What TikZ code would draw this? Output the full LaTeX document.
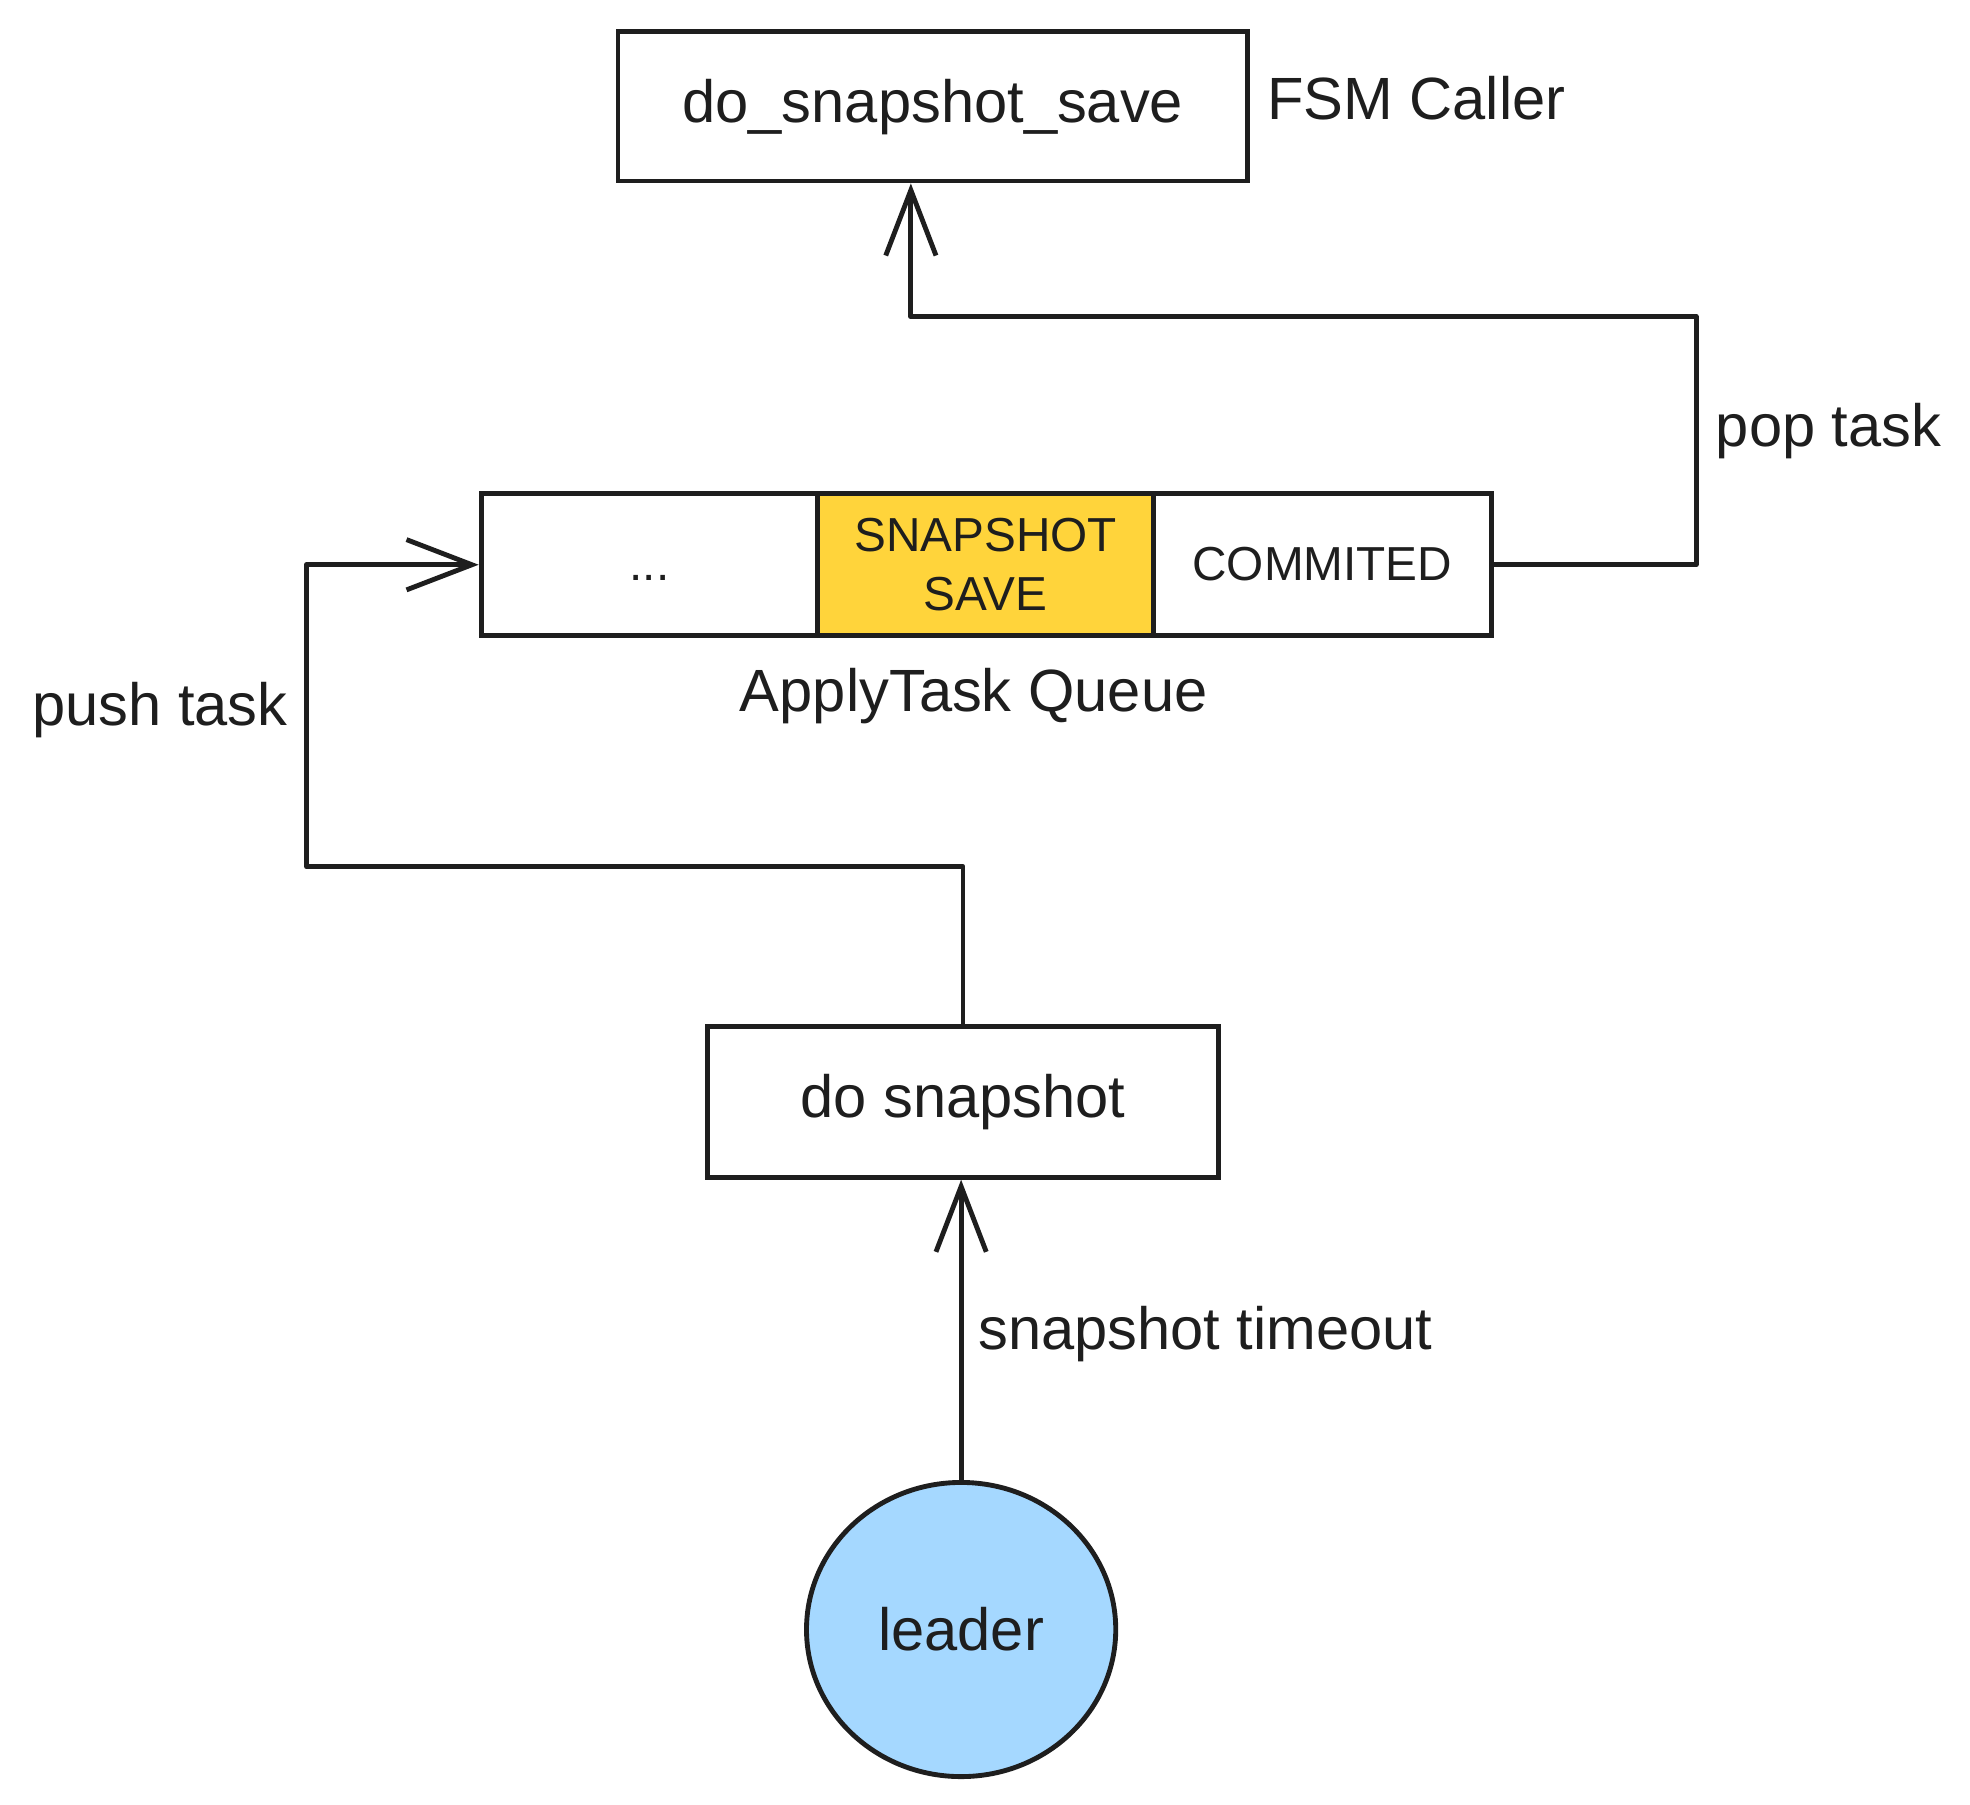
\documentclass[tikz,border=0pt]{standalone}
\usepackage{fontspec}
\setmainfont{Liberation Sans}
\usetikzlibrary{arrows.meta,shapes.geometric}
\definecolor{ink}{HTML}{1E1E1E}
\definecolor{yel}{HTML}{FFD43B}
\definecolor{blu}{HTML}{A5D8FF}
\tikzset{
  boxbase/.style={draw=ink, line width=1.1pt, rectangle, inner sep=0pt, fill=white,
    text=ink, font=\fontsize{13.5}{16}\selectfont},
  box/.style={boxbase, text height=0.72em, text depth=0pt},
  cell/.style={box, minimum height=1.13cm, font=\fontsize{10.8}{13.5}\selectfont},
  cellml/.style={boxbase, minimum height=1.13cm, font=\fontsize{10.8}{13.5}\selectfont, align=center},
  lbl/.style={text=ink, font=\fontsize{13.5}{16}\selectfont, inner sep=0pt},
  conn/.style={draw=ink, line width=1.1pt, line join=round},
  arr/.style={conn, -{Straight Barb[length=0.52cm, width=0.4cm, line width=1.1pt]}},
}
\begin{document}
\begin{tikzpicture}[x=0.01cm, y=-0.01cm]
\useasboundingbox (0,0) rectangle (1568,1436);
% nodes
\node[box, minimum width=5.01cm, minimum height=1.19cm] (dss) at (742.5,84.5) {do\_snapshot\_save};
\node[lbl, anchor=west] (fsm) at (1008,78) {FSM Caller};
\node[cell, minimum width=2.68cm] (c1) at (517,449.5) {...};
\node[cellml, minimum width=2.67cm, fill=yel] (c2) at (784.5,449.5) {SNAPSHOT\\SAVE};
\node[cell, minimum width=2.69cm] (c3) at (1052.5,449.5) {COMMITED};
\node[lbl] (aq) at (775,554) {ApplyTask Queue};
\node[box, minimum width=4.07cm, minimum height=1.2cm] (ds) at (766.5,877) {do snapshot};
\node[boxbase, ellipse, fill=blu, minimum width=2.46cm, minimum height=2.34cm] (leader) at (765,1297) {leader};
% label nodes
\node[lbl, anchor=west] (pop) at (1365,343) {pop task};
\node[lbl, anchor=west] (push) at (25,565) {push task};
\node[lbl, anchor=west] (sto) at (778,1062) {snapshot timeout};
% coordinates
\coordinate (p2) at (1350,252);
\coordinate (p1) at (725,252);
\coordinate (pb) at (244,690);
% connectors
\draw[arr] (c3.east) -| (p2) -- (p1) -- (p1 |- dss.south);
\draw[arr] (ds.north) |- (pb) |- (c1.west);
\draw[arr] (leader.north) -- (leader.north |- ds.south);
\end{tikzpicture}
\end{document}
